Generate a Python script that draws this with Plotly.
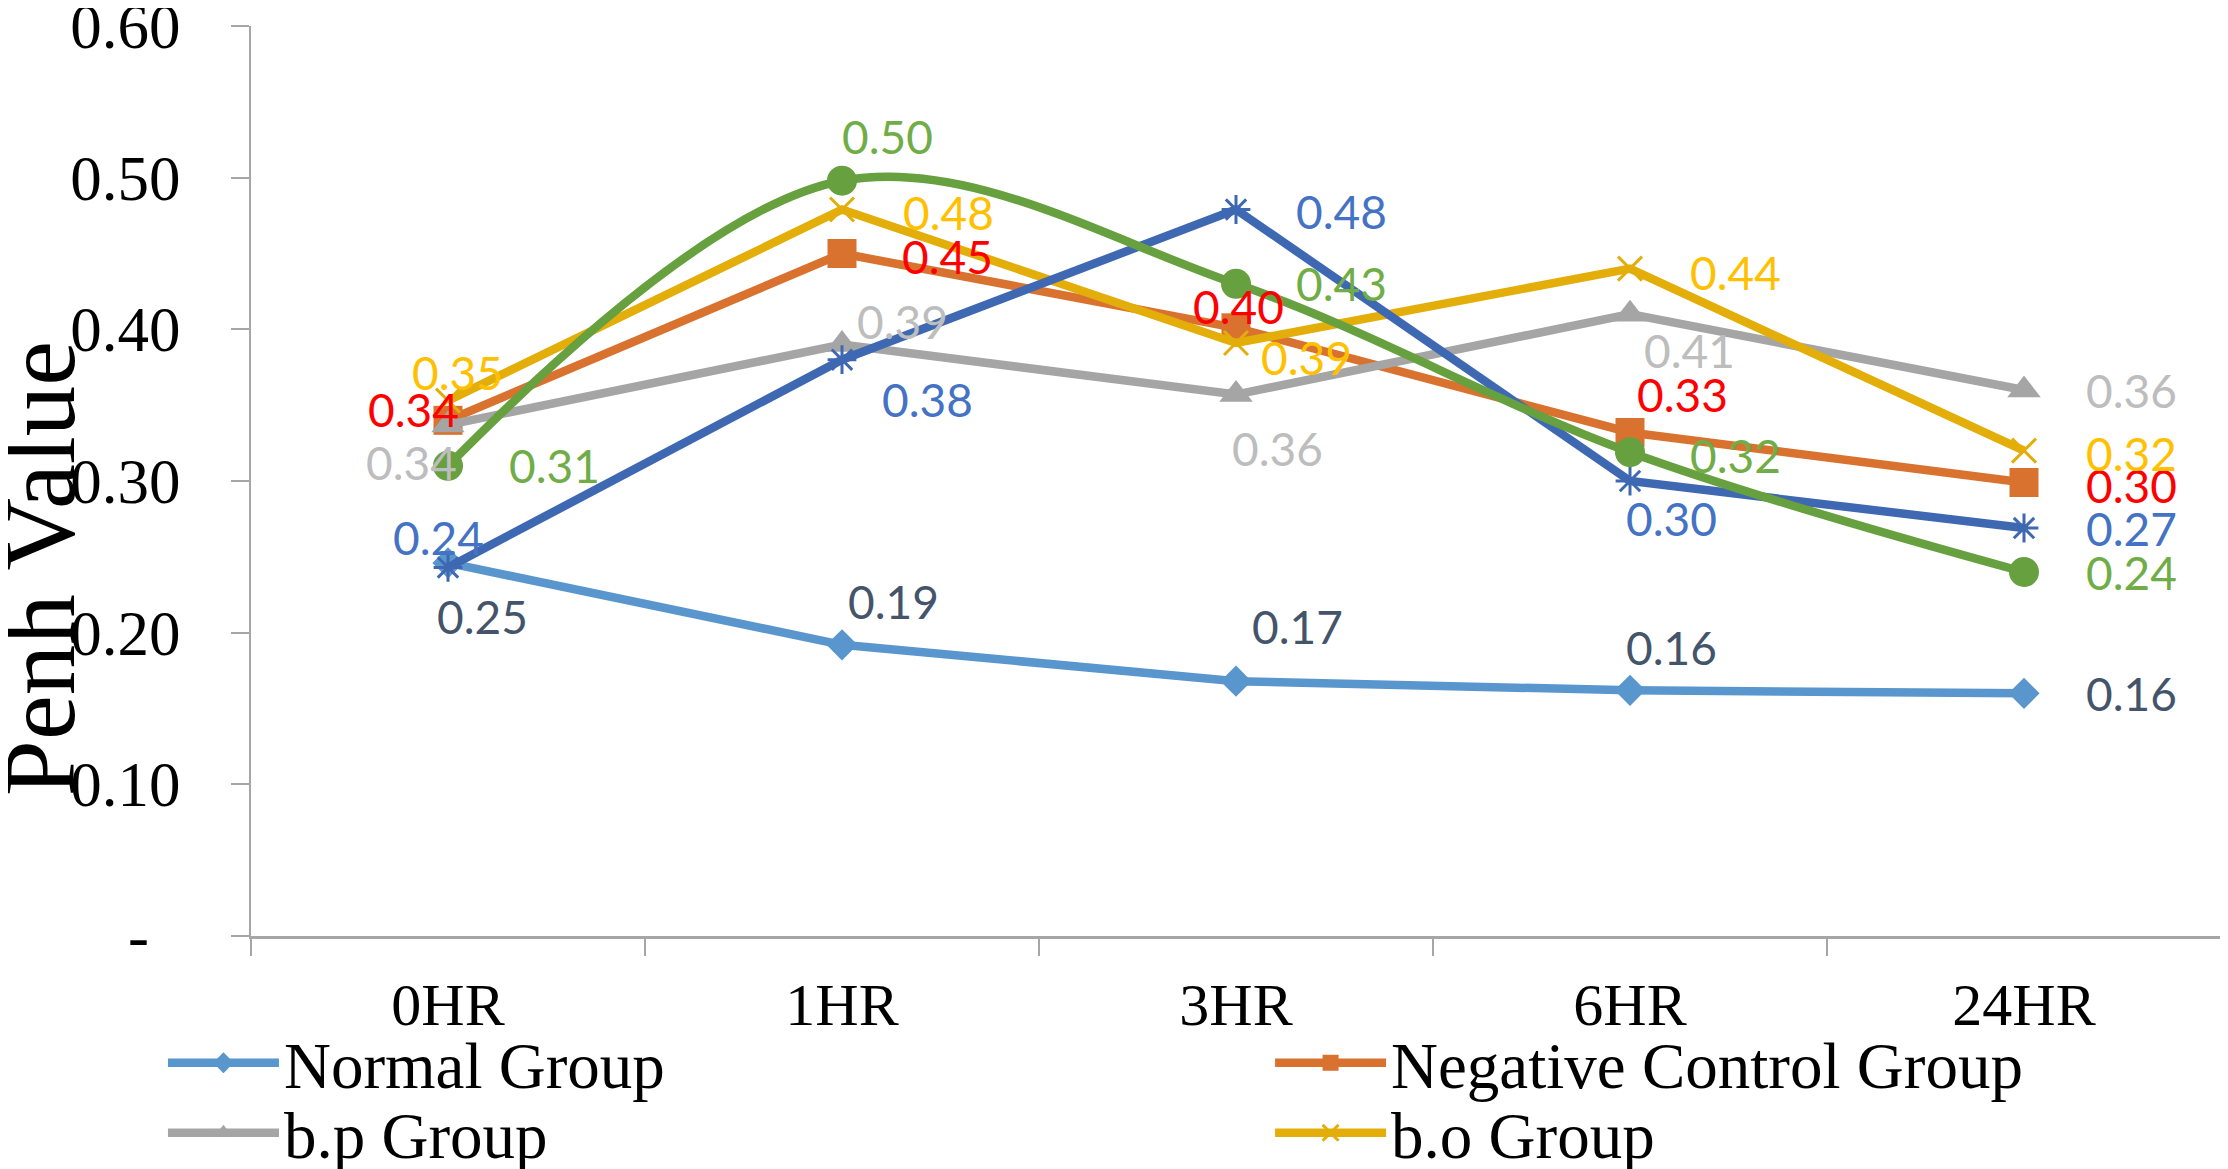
import plotly.graph_objects as go

# data
categories = ["0HR", "1HR", "3HR", "6HR", "24HR"]

normal_group = [0.246, 0.192, 0.168, 0.162, 0.160]
negative_control = [0.340, 0.450, 0.401, 0.332, 0.299]
bp_group = [0.337, 0.390, 0.357, 0.410, 0.360]
bo_group = [0.353, 0.479, 0.391, 0.440, 0.320]
series_5 = [0.243, 0.380, 0.479, 0.300, 0.269]
series_6 = [0.310, 0.498, 0.430, 0.319, 0.240]

y_tick_vals = [0.0, 0.1, 0.2, 0.3, 0.4, 0.5, 0.6]
y_tick_text = ["-\u00a0\u00a0", "0.10", "0.20", "0.30", "0.40", "0.50", "0.60"]

SERIF = "Liberation Serif"
SANS = "Lato"
AXIS_GREY = "#A6A6A6"

# label offsets in px (right, up) for each point, as placed in the original
series = [
    dict(name="Normal Group", y=normal_group, color="#5A96CE", label="#44546A",
         marker=dict(symbol="diamond", size=24), legend="legend",
         shift=[(34, -54), (51, 43), (61, 55), (41, 43), (107, 0)]),
    dict(name="Negative Control Group", y=negative_control, color="#D9722F", label="#FF0000",
         marker=dict(symbol="square", size=29), legend="legend2",
         shift=[(-35, 11), (105, -3), (2, 21), (52, 38), (107, -3)]),
    dict(name="b.p Group", y=bp_group, color="#A5A5A5", label="#BDBDBD",
         marker=dict(symbol="triangle-up", size=29), legend="legend3",
         shift=[(-37, -38), (60, 23), (41, -54), (59, -36), (107, 0)]),
    dict(name="b.o Group", y=bo_group, color="#E3AE0A", label="#FFC000",
         marker=dict(symbol="x-thin", size=24, line=dict(width=3, color="#E3AE0A")), legend="legend4",
         shift=[(9, 28), (106, -3), (70, -15), (105, -4), (107, -3)]),
    dict(name="Series 5", y=series_5, color="#3F68B2", label="#4472C4",
         marker=dict(symbol="asterisk", size=24, line=dict(width=3, color="#3F68B2")), legend=None,
         shift=[(-10, 30), (85, -40), (105, -2), (41, -37), (107, 0)]),
    dict(name="Series 6", y=series_6, color="#66A03F", label="#70AD47",
         marker=dict(symbol="circle", size=30), legend=None, spline=True,
         shift=[(106, 0), (45, 44), (105, 0), (105, -3), (107, 0)]),
]

fig = go.Figure()
annotations = []

for s in series:
    mk = dict(color=s["color"], **s["marker"])
    fig.add_trace(go.Scatter(
        x=categories, y=s["y"], name=s["name"], mode="lines+markers",
        line=dict(color=s["color"], width=8.5, shape="spline" if s.get("spline") else "linear"),
        marker=mk, showlegend=s["legend"] is not None,
        legend=s["legend"] if s["legend"] else "legend",
        hoverinfo="skip"))
    for cat, val, (dx, dy) in zip(categories, s["y"], s["shift"]):
        annotations.append(dict(
            x=cat, y=val, xref="x", yref="y", text=f"{val:.2f}", showarrow=False,
            xshift=dx, yshift=dy, xanchor="center", yanchor="middle",
            font=dict(family=SANS, size=46, color=s["label"])))

annotations.append(dict(
    text="Penh Value", xref="paper", yref="paper", x=-0.1071, y=0.403,
    xanchor="center", yanchor="middle", textangle=-90, showarrow=False,
    font=dict(family=SERIF, size=101, color="black")))

# legends placed against the whole figure so they do not push the margins
legend_style = dict(font=dict(family=SERIF, size=65, color="black"), itemwidth=111,
                    bgcolor="rgba(0,0,0,0)", borderwidth=0, xanchor="left", yanchor="middle",
                    orientation="v", xref="container", yref="container")

# the page adds an 8px body margin, so the figure is 8px smaller on each axis
fig.update_layout(
    width=2220, height=1161,
    margin=dict(l=243, r=7, t=18, b=233, autoexpand=False),
    plot_bgcolor="white", paper_bgcolor="white",
    annotations=annotations,
    legend=dict(x=0.0698, y=0.0913, **legend_style),
    legend2=dict(x=0.5685, y=0.0913, **legend_style),
    legend3=dict(x=0.0698, y=0.0310, **legend_style),
    legend4=dict(x=0.5685, y=0.0310, **legend_style),
)

fig.update_xaxes(
    type="category", range=[-0.5, 4.5], showgrid=False, zeroline=False,
    showline=True, linecolor=AXIS_GREY, linewidth=3,
    ticks="outside", tickson="boundaries", ticklen=17, tickwidth=2, tickcolor=AXIS_GREY,
    ticklabelstandoff=14,
    tickfont=dict(family=SERIF, size=60, color="black"))

fig.update_yaxes(
    range=[0, 0.6], showgrid=False, zeroline=False,
    showline=True, linecolor=AXIS_GREY, linewidth=2,
    ticks="outside", ticklen=18, tickwidth=2, tickcolor=AXIS_GREY,
    tickvals=y_tick_vals, ticktext=y_tick_text, ticklabelstandoff=38,
    ticklabeloverflow="allow",
    tickfont=dict(family=SERIF, size=63, color="black"))

fig.write_html("out.html")
